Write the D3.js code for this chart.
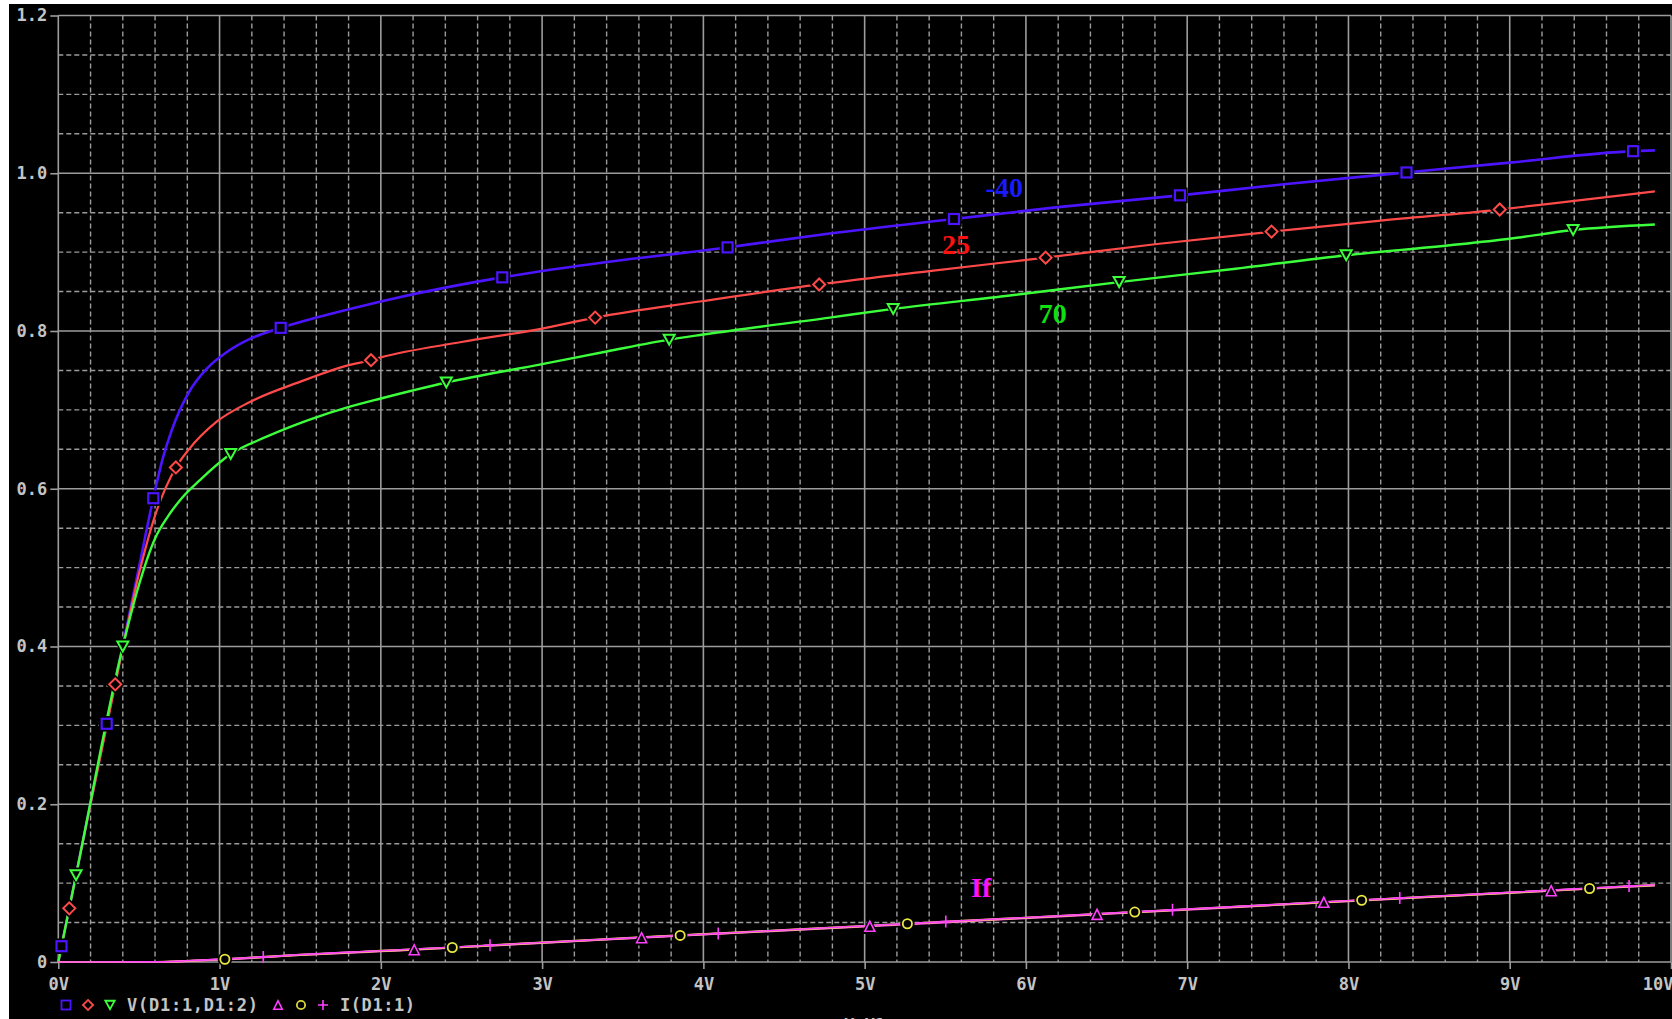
<!DOCTYPE html>
<html>
<head>
<meta charset="utf-8">
<script src="https://cdn.jsdelivr.net/npm/d3@7"></script>
<style>
  html, body { margin: 0; padding: 0; background: #000; }
  svg { display: block; }
</style>
</head>
<body>
<svg id="chart" width="1672" height="1019"></svg>
<script>
// ---- Sweep axis (source voltage) and value axis ----
const sweepTicks = [0, 1, 2, 3, 4, 5, 6, 7, 8, 9, 10];
const sweepTickLabels = ["0V", "1V", "2V", "3V", "4V", "5V", "6V", "7V", "8V", "9V", "10V"];
const valueTicks = [0, 0.2, 0.4, 0.6, 0.8, 1.0, 1.2];
const valueTickLabels = ["0", "0.2", "0.4", "0.6", "0.8", "1.0", "1.2"];

// ---- Diode forward voltage V(D1:1,D1:2) at three temperatures: [V_source, V_diode] ----
const vdM40 = [[0,0],[0.02,0.02],[0.30,0.302],[0.5,0.5],[0.589,0.588],[0.65,0.64],[0.703,0.674],
  [0.806,0.721],[0.92,0.752],[1.05,0.774],[1.188,0.790],[1.379,0.804],[1.6,0.817],[1.808,0.828],
  [2.0,0.8375],[2.4,0.855],[2.753,0.868],[3.0,0.876],[3.5,0.890],[4.0,0.902],[4.15,0.906],
  [4.784,0.9236],[5.554,0.942],[6.2,0.957],[6.955,0.972],[7.6,0.986],[8.36,1.001],[9.0,1.0135],
  [9.765,1.028],[9.9,1.029]];
const vd25 = [[0,0],[0.068,0.068],[0.353,0.352],[0.5,0.492],[0.6,0.566],[0.729,0.627],[0.806,0.649],
  [0.982,0.685],[1.188,0.710],[1.498,0.7355],[1.808,0.757],[1.939,0.763],[2.0,0.7665],[2.5,0.786],
  [3.0,0.803],[3.329,0.817],[4.0,0.838],[4.718,0.859],[5.4,0.876],[6.122,0.893],[6.8,0.910],
  [7.523,0.926],[8.2,0.940],[8.938,0.954],[9.4,0.965],[9.9,0.977]];
const vd70 = [[0,0],[0.11,0.11],[0.4,0.400],[0.5,0.478],[0.6,0.537],[0.68,0.565],[0.765,0.588],
  [0.878,0.611],[1.069,0.644],[1.292,0.666],[1.55,0.687],[1.808,0.704],[2.0,0.7144],[2.406,0.7347],
  [3.0,0.758],[3.4,0.774],[3.788,0.789],[4.0,0.7955],[4.784,0.817],[5.177,0.828],[5.9,0.845],
  [6.578,0.862],[7.3,0.879],[7.986,0.896],[8.628,0.9087],[9.0,0.917],[9.393,0.928],[9.9,0.935]];

// ---- Diode current I(D1:1) at the same three temperatures: [V_source, A] ----
const ifM40 = [[0,0],[0.6,0],[0.7,0.0003],[0.8,0.0012],[1.0,0.0030],[1.5,0.0089],[2.0,0.0137],
  [2.207,0.0156],[3.0,0.0243],[3.617,0.0308],[4.0,0.0349],[5.032,0.0453],[6.0,0.0557],[6.441,0.0604],
  [7.0,0.0664],[7.847,0.0757],[8.5,0.0824],[9.257,0.0904],[9.9,0.0972]];
const if25 = [[0,0],[0.6,0],[0.7,0.0004],[0.8,0.0013],[1.033,0.0035],[1.5,0.0091],[2.0,0.0140],
  [2.443,0.0184],[3.0,0.0246],[3.856,0.0337],[4.5,0.0404],[5.265,0.0485],[6.0,0.0561],[6.675,0.0633],
  [7.5,0.0721],[8.082,0.0783],[8.7,0.0848],[9.495,0.0932],[9.9,0.0975]];
const if70 = [[0,0],[0.6,0.0001],[0.7,0.0005],[0.8,0.0015],[1.0,0.0033],[1.271,0.0063],[1.5,0.0093],
  [2.0,0.0142],[2.677,0.0212],[3.0,0.0248],[4.092,0.0362],[4.5,0.0406],[5.503,0.0512],[6.0,0.0564],
  [6.909,0.0661],[7.5,0.0724],[8.318,0.0811],[9.0,0.0883],[9.74,0.0962],[9.9,0.0979]];

// ---- Symbol positions along each trace (source voltages) ----
const marksVdM40 = [0.02, 0.30, 0.589, 1.379, 2.753, 4.15, 5.554, 6.955, 8.36, 9.765];
const marksVd25 = [0.068, 0.353, 0.729, 1.939, 3.329, 4.718, 6.122, 7.523, 8.938];
const marksVd70 = [0.11, 0.4, 1.069, 2.406, 3.788, 5.177, 6.578, 7.986, 9.393];
const marksIfM40 = [2.207, 3.617, 5.032, 6.441, 7.847, 9.257];
const marksIf25 = [1.033, 2.443, 3.856, 5.265, 6.675, 8.082, 9.495];
const marksIf70 = [1.271, 2.677, 4.092, 5.503, 6.909, 8.318, 9.74];

// ---- Trace labels placed on the plot: [text, V_source, value] ----
const traceLabels = [["-40", 5.75, 0.97], ["25", 5.48, 0.898], ["70", 6.08, 0.81], ["If", 5.66, 0.082]];
const traceLabelColors = ["#1a1aff", "#ff1010", "#10e010", "#ff10ff"];

const legendGroups = ["V(D1:1,D1:2)", "I(D1:1)"];

const W = 1672, H = 1019;
const svg = d3.select("#chart");

const x = d3.scaleLinear().domain([0, 10]).range([58.3, 1671]);
const y = d3.scaleLinear().domain([0, 1.2]).range([962, 15.5]);

const GRID = "#9c9c9c";
const LABEL = "#c4c4c4";
const MONO = "'DejaVu Sans Mono', 'Liberation Mono', monospace";

svg.append("rect").attr("width", W).attr("height", H).attr("fill", "#000");
// window frame edges
svg.append("rect").attr("x", 0).attr("y", 0).attr("width", 9).attr("height", H).attr("fill", "#fff");
svg.append("rect").attr("x", 0).attr("y", 0).attr("width", W).attr("height", 4).attr("fill", "#fff");

// ---- Grid ----
const grid = svg.append("g");
const xMajor = new Set(sweepTicks);
const yMajor = new Set(valueTicks.map(d => d.toFixed(2)));
x.ticks(50).filter(d => !xMajor.has(Math.round(d * 1000) / 1000)).forEach(d => {
  grid.append("line").attr("x1", x(d)).attr("x2", x(d)).attr("y1", y(1.2)).attr("y2", y(0))
    .attr("stroke", GRID).attr("stroke-width", 1.4).attr("stroke-dasharray", "5,3");
});
y.ticks(24).filter(d => !yMajor.has(d.toFixed(2))).forEach(d => {
  grid.append("line").attr("x1", x(0)).attr("x2", x(10)).attr("y1", y(d)).attr("y2", y(d))
    .attr("stroke", GRID).attr("stroke-width", 1.4).attr("stroke-dasharray", "5,3");
});
sweepTicks.forEach(d => {
  grid.append("line").attr("x1", x(d)).attr("x2", x(d)).attr("y1", y(1.2)).attr("y2", y(0))
    .attr("stroke", GRID).attr("stroke-width", 1.6);
});
valueTicks.forEach(d => {
  grid.append("line").attr("x1", x(0)).attr("x2", x(10)).attr("y1", y(d)).attr("y2", y(d))
    .attr("stroke", GRID).attr("stroke-width", 1.6);
});

// ---- Axes ----
const yAxis = d3.axisLeft(y).tickValues(valueTicks).tickSize(8).tickPadding(3)
  .tickFormat((d, i) => valueTickLabels[i]);
const gy = svg.append("g").attr("transform", `translate(${x(0)},0)`).call(yAxis);
const xAxis = d3.axisBottom(x).tickValues(sweepTicks).tickSize(7).tickPadding(9)
  .tickFormat((d, i) => sweepTickLabels[i]);
const gx = svg.append("g").attr("transform", `translate(0,${y(0)})`).call(xAxis);
[gx, gy].forEach(g => {
  g.select(".domain").remove();
  g.selectAll(".tick line").attr("stroke", GRID).attr("stroke-width", 1.6);
  g.selectAll(".tick text").attr("fill", LABEL).attr("font-family", MONO)
    .attr("font-weight", "bold").attr("font-size", 17);
});
gx.selectAll(".tick text").filter((d, i) => i === sweepTicks.length - 1).attr("text-anchor", "end").attr("dx", 2);

// axis title, sitting below the visible area
svg.append("text").attr("x", x(5)).attr("y", 1031).attr("text-anchor", "middle")
  .attr("fill", LABEL).attr("font-family", MONO).attr("font-weight", "bold").attr("font-size", 17)
  .text("V_V1");

// ---- Traces ----
const series = [
  { data: vdM40, marks: marksVdM40, color: "#4c14ff", width: 2.6, sym: "square", sw: 2.2 },
  { data: vd25, marks: marksVd25, color: "#ff4a4a", width: 2.2, sym: "diamond", sw: 2 },
  { data: vd70, marks: marksVd70, color: "#3cff3c", width: 2.4, sym: "triDown", sw: 2 },
  { data: ifM40, marks: marksIfM40, color: "#ff40ff", width: 2.2, sym: "triUp", sw: 1.6 },
  { data: if25, marks: marksIf25, color: "#e8e840", width: 2.2, sym: "circle", sw: 1.8 },
  { data: if70, marks: marksIf70, color: "#ff40ff", width: 1.6, sym: "plus", sw: 1.6 }
];

const line = d3.line().x(d => x(d[0])).y(d => y(d[1])).curve(d3.curveMonotoneX);
const traces = svg.append("g");
series.forEach(s => {
  traces.append("path").datum(s.data).attr("d", line)
    .attr("fill", "none").attr("stroke", s.color).attr("stroke-width", s.width)
    .attr("stroke-linejoin", "round");
});

function valueAt(data, v) {
  const i = d3.bisector(d => d[0]).left(data, v);
  if (i < data.length && Math.abs(data[i][0] - v) < 1e-9) return data[i][1];
  const a = data[Math.max(0, i - 1)], b = data[Math.min(data.length - 1, i)];
  if (b[0] === a[0]) return a[1];
  return a[1] + (b[1] - a[1]) * (v - a[0]) / (b[0] - a[0]);
}

function drawSymbol(g, kind, cx, cy, color, sw, scale) {
  const k = scale || 1;
  let el;
  if (kind === "square") {
    el = g.append("rect").attr("x", cx - 5 * k).attr("y", cy - 5 * k).attr("width", 10 * k).attr("height", 10 * k);
  } else if (kind === "diamond") {
    el = g.append("polygon").attr("points", [[cx, cy - 6 * k], [cx + 6 * k, cy], [cx, cy + 6 * k], [cx - 6 * k, cy]].join(" "));
  } else if (kind === "triDown") {
    el = g.append("polygon").attr("points", [[cx - 5.5 * k, cy - 5 * k], [cx + 5.5 * k, cy - 5 * k], [cx, cy + 5 * k]].join(" "));
  } else if (kind === "triUp") {
    el = g.append("polygon").attr("points", [[cx - 5 * k, cy + 5 * k], [cx + 5 * k, cy + 5 * k], [cx, cy - 5 * k]].join(" "));
  } else if (kind === "circle") {
    el = g.append("circle").attr("cx", cx).attr("cy", cy).attr("r", 4.6 * k);
  } else {
    el = g.append("path").attr("d", `M${cx - 6 * k},${cy}H${cx + 6 * k}M${cx},${cy - 6 * k}V${cy + 6 * k}`);
  }
  el.attr("fill", "none").attr("stroke", color).attr("stroke-width", sw);
  return el;
}

// symbols: a black cut-out around each one, then the outline
const symbols = svg.append("g");
series.forEach(s => {
  s.marks.forEach(v => {
    const cx = x(v), cy = y(valueAt(s.data, v));
    if (s.sym !== "plus") {
      drawSymbol(symbols, s.sym, cx, cy, "#000", 3, 1.25).attr("fill", "#000");
    }
    drawSymbol(symbols, s.sym, cx, cy, s.color, s.sw, 1);
  });
});

// ---- Trace labels ----
traceLabels.forEach((t, i) => {
  svg.append("text").attr("x", x(t[1])).attr("y", y(t[2]))
    .attr("fill", traceLabelColors[i])
    .attr("font-family", "'Liberation Serif', 'Times New Roman', serif")
    .attr("font-weight", "bold").attr("font-size", 28)
    .text(t[0]);
});

// ---- Legend ----
const legend = svg.append("g");
const legendY = 1005;
const legendText = (xPos, str, width) => legend.append("text").attr("x", xPos).attr("y", legendY + 6)
  .attr("fill", LABEL).attr("font-family", MONO).attr("font-weight", "bold").attr("font-size", 17)
  .attr("textLength", width).attr("lengthAdjust", "spacing").text(str);

drawSymbol(legend, "square", 66, legendY, series[0].color, 1.8, 0.9);
drawSymbol(legend, "diamond", 88, legendY, series[1].color, 1.8, 0.85);
drawSymbol(legend, "triDown", 110, legendY, series[2].color, 1.8, 0.85);
legendText(127, legendGroups[0], 131);
drawSymbol(legend, "triUp", 278, legendY, series[3].color, 1.6, 0.85);
drawSymbol(legend, "circle", 301, legendY, "#d8d838", 1.8, 0.9);
drawSymbol(legend, "plus", 323, legendY, series[5].color, 1.6, 0.85);
legendText(340, legendGroups[1], 75);
</script>
</body>
</html>
